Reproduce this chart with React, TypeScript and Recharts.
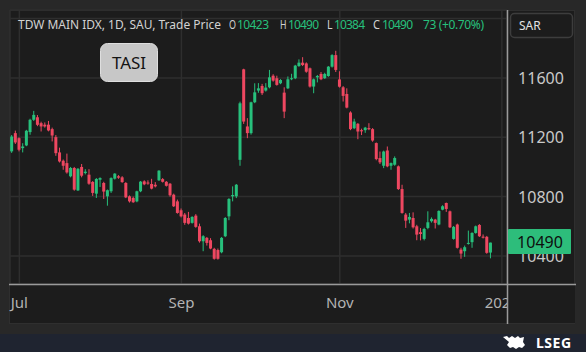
import React from 'react';
import { ComposedChart, Bar, XAxis, YAxis, CartesianGrid } from 'recharts';

// daily OHLC, TASI, Jul - Dec 2024
const opens = [
  11105, 11228, 11194, 11127, 11145, 11235, 11318, 11335, 11295, 11285,
  11285, 11255, 11201, 11098, 11042, 11026, 10937, 10993, 10842, 11000,
  10959, 10948, 10899, 10820, 10914, 10892, 10802, 10836, 10921, 10937,
  10930, 10892, 10802, 10791, 10768, 10836, 10903, 10895, 10885, 10880,
  10910, 10918, 10900, 10887, 10813, 10768, 10708, 10679, 10656, 10623,
  10672, 10600, 10499, 10522, 10506, 10448, 10440, 10425, 10533, 10667,
  10802, 10802, 11048, 11658, 11273, 11228, 11436, 11515, 11546, 11515,
  11537, 11615, 11598, 11564, 11501, 11530, 11594, 11598, 11680, 11703,
  11698, 11665, 11542, 11604, 11627, 11598, 11613, 11676, 11754, 11590,
  11537, 11492, 11367, 11261, 11291, 11248, 11248, 11262, 11255, 11161,
  11060, 11008, 11111, 11008, 11015, 11004, 10851, 10679, 10645, 10656,
  10600, 10560, 10515, 10589, 10634, 10645, 10612, 10712, 10757, 10701,
  10515, 10612, 10443, 10432, 10484, 10493, 10555, 10609, 10530, 10529,
  10423,
];
const highs = [
  11215, 11245, 11200, 11160, 11250, 11325, 11378, 11350, 11305, 11300,
  11310, 11265, 11215, 11130, 11050, 11090, 11000, 11000, 10992, 11020,
  10985, 10985, 10905, 10925, 10930, 10900, 10848, 10930, 10958, 10945,
  10938, 10898, 10808, 10800, 10840, 10905, 10910, 10910, 10920, 10898,
  10978, 10925, 10905, 10892, 10820, 10780, 10720, 10690, 10697, 10668,
  10682, 10618, 10540, 10528, 10520, 10455, 10450, 10528, 10662, 10790,
  10869, 10885, 11440, 11662, 11329, 11440, 11564, 11565, 11560, 11565,
  11654, 11625, 11615, 11592, 11537, 11610, 11628, 11688, 11725, 11740,
  11705, 11670, 11596, 11620, 11640, 11635, 11680, 11760, 11783, 11645,
  11545, 11530, 11375, 11325, 11296, 11258, 11270, 11295, 11262, 11165,
  11104, 11110, 11138, 11030, 11071, 11010, 10880, 10690, 10690, 10694,
  10610, 10588, 10590, 10701, 10660, 10650, 10708, 10742, 10760, 10706,
  10602, 10618, 10455, 10470, 10571, 10560, 10605, 10615, 10545, 10535,
  10490,
];
const lows = [
  11095, 11155, 11105, 11098, 11140, 11217, 11310, 11275, 11239, 11265,
  11240, 11172, 11075, 11030, 10981, 10955, 10930, 10840, 10838, 10930,
  10950, 10880, 10805, 10791, 10865, 10784, 10739, 10825, 10915, 10920,
  10893, 10790, 10760, 10758, 10762, 10830, 10877, 10880, 10849, 10862,
  10906, 10895, 10868, 10800, 10730, 10685, 10660, 10610, 10612, 10618,
  10590, 10490, 10432, 10470, 10445, 10375, 10375, 10418, 10527, 10641,
  10768, 10790, 11008, 11290, 11194, 11218, 11430, 11500, 11485, 11508,
  11530, 11575, 11548, 11558, 11329, 11525, 11585, 11592, 11675, 11680,
  11635, 11535, 11497, 11570, 11585, 11594, 11608, 11670, 11640, 11535,
  11441, 11395, 11248, 11255, 11187, 11215, 11230, 11248, 11170, 11045,
  11020, 10992, 10998, 10981, 11008, 10845, 10685, 10589, 10620, 10585,
  10506, 10505, 10505, 10580, 10625, 10585, 10607, 10708, 10697, 10588,
  10510, 10450, 10381, 10394, 10477, 10455, 10550, 10528, 10518, 10415,
  10384,
];
const closes = [
  11205, 11165, 11116, 11138, 11244, 11318, 11351, 11284, 11273, 11273,
  11246, 11212, 11093, 11037, 11008, 10963, 10993, 10847, 10988, 10941,
  10968, 10887, 10825, 10919, 10925, 10834, 10843, 10925, 10955, 10928,
  10898, 10795, 10768, 10762, 10836, 10901, 10883, 10888, 10854, 10869,
  10975, 10900, 10873, 10809, 10735, 10690, 10667, 10623, 10618, 10663,
  10596, 10499, 10533, 10488, 10450, 10381, 10381, 10522, 10656, 10784,
  10811, 10880, 11429, 11306, 11228, 11436, 11503, 11530, 11497, 11535,
  11604, 11582, 11553, 11586, 11373, 11591, 11598, 11683, 11703, 11687,
  11642, 11542, 11591, 11613, 11591, 11627, 11676, 11754, 11654, 11541,
  11479, 11400, 11255, 11306, 11239, 11240, 11265, 11254, 11178, 11053,
  11031, 11104, 11004, 11026, 11060, 10851, 10690, 10638, 10663, 10593,
  10544, 10548, 10582, 10627, 10650, 10623, 10703, 10735, 10717, 10593,
  10596, 10455, 10416, 10459, 10488, 10555, 10600, 10533, 10524, 10421,
  10490,
];

// first trading day of each month (bar index) and its label
const monthTicks = [2, 46, 89, 133];
const monthLabels = ['Jul', 'Sep', 'Nov', '2025'];
const priceTicks = [10400, 10800, 11200, 11600, 12000];
const hiddenPriceLabels = [12000]; // sits under the currency box

const GREEN = '#27c07c';
const RED = '#ee4760';
const FONT = '"Noto Sans", "Open Sans", sans-serif';

const data = opens.map((o, i) => ({
  i,
  o,
  h: highs[i],
  l: lows[i],
  c: closes[i],
  range: [lows[i], highs[i]],
}));

const Candle = (props: any) => {
  const { x, y, width, height, payload } = props;
  if (!payload) return null;
  const { o, h, l, c } = payload;
  const color = c >= o ? GREEN : RED;
  const top = Math.min(y, y + height);
  const span = Math.abs(height);
  const k = h === l ? 0 : span / (h - l);
  const yTop = top + (h - Math.max(o, c)) * k;
  const yBot = top + (h - Math.min(o, c)) * k;
  const cx = x + width / 2;
  return (
    <g>
      <line x1={cx} x2={cx} y1={top} y2={top + span} stroke={color} strokeWidth={1} />
      <rect x={x} y={yTop} width={width} height={Math.max(1, yBot - yTop)} fill={color} />
    </g>
  );
};

const PriceTick = (props: any) => {
  const { y, payload } = props;
  if (hiddenPriceLabels.includes(payload.value)) return <g />;
  return (
    <text x={541} y={y} dy={6} textAnchor="middle" fill="#c9c9c9" fontSize={16} fontFamily={FONT}>
      {payload.value}
    </text>
  );
};

const MonthTick = (props: any) => {
  const { x, y, payload } = props;
  const idx = monthTicks.indexOf(payload.value);
  return (
    <text x={x} y={y} dy={16} textAnchor="middle" fill="#b3b3b3" fontSize={15} fontFamily={FONT}>
      {monthLabels[idx]}
    </text>
  );
};

const App: React.FC = () => {
  return (
    <div style={{ position: 'relative', width: 586, height: 352, background: '#282828', overflow: 'hidden' }}>
      <style>{'body{margin:0}'}</style>
      <div style={{ position: 'absolute', left: 9, top: 10, width: 566, height: 314, background: '#1c1c1c', border: '1px solid #2f2f2f', boxSizing: 'border-box' }} />
      <div style={{ position: 'absolute', left: 0, top: 334, width: 586, height: 18, background: '#1f2430' }} />
      <div style={{ position: 'absolute', left: 0, top: 0 }}>
        <ComposedChart width={586} height={352} data={data} margin={{ top: 10, right: 10, bottom: 28, left: 10 }}>
          <CartesianGrid stroke="#2e2e2e" strokeWidth={1.5} />
          <XAxis
            dataKey="i"
            type="number"
            domain={[-0.54, 134.4]}
            allowDataOverflow
            ticks={monthTicks}
            interval={0}
            height={40}
            axisLine={false}
            tickLine={false}
            tick={<MonthTick />}
          />
          <YAxis
            orientation="right"
            type="number"
            domain={[10211, 12058]}
            allowDataOverflow
            ticks={priceTicks}
            interval={0}
            width={69}
            axisLine={false}
            tickLine={false}
            tick={<PriceTick />}
          />
          <Bar dataKey="range" barSize={3} shape={<Candle />} isAnimationActive={false} />
        </ComposedChart>
      </div>
      <svg width={586} height={352} style={{ position: 'absolute', left: 0, top: 0, pointerEvents: 'none' }} fontFamily={FONT}>
        {/* cover so the last month label is cut at the price scale */}
        <rect x={508} y={285} width={67} height={38} fill="#1c1c1c" />
        <line x1={9} x2={576} y1={284.5} y2={284.5} stroke="#9a9a9a" strokeWidth={1.5} />
        <line x1={507.5} x2={507.5} y1={10} y2={324} stroke="#9a9a9a" strokeWidth={1.5} />

        <text x={18} y={29} fontSize={12} fill="#d2d2d2" textLength={203} lengthAdjust="spacingAndGlyphs">TDW MAIN IDX, 1D, SAU, Trade Price</text>
        <text x={229} y={29} fontSize={12} fill="#d2d2d2" textLength={7} lengthAdjust="spacingAndGlyphs">O</text>
        <text x={237} y={29} fontSize={12} fill={GREEN} textLength={32}>10423</text>
        <text x={280} y={29} fontSize={12} fill="#d2d2d2" textLength={6.5} lengthAdjust="spacingAndGlyphs">H</text>
        <text x={288} y={29} fontSize={12} fill={GREEN} textLength={31}>10490</text>
        <text x={327} y={29} fontSize={12} fill="#d2d2d2" textLength={5.5} lengthAdjust="spacingAndGlyphs">L</text>
        <text x={334} y={29} fontSize={12} fill={GREEN} textLength={31}>10384</text>
        <text x={373} y={29} fontSize={12} fill="#d2d2d2" textLength={7} lengthAdjust="spacingAndGlyphs">C</text>
        <text x={382} y={29} fontSize={12} fill={GREEN} textLength={31}>10490</text>
        <text x={423} y={29} fontSize={12} fill={GREEN} textLength={61}>73 (+0.70%)</text>

        <rect x={510.5} y={13.5} width={62} height={24} rx={4} fill="#1c1c1c" stroke="#3d3d3d" strokeWidth={1.5} />
        <text x={519} y={30} fontSize={12} fill="#e2e2e2">SAR</text>

        <rect x={100.5} y={43.5} width={57} height={38} rx={7} fill="#c7c7c7" stroke="#dedede" />
        <text x={129} y={69} fontSize={17} fill="#141414" textAnchor="middle">TASI</text>

        <rect x={508} y={229} width={63} height={25} rx={1} fill="#2dbd7b" />
        <text x={540} y={247.5} fontSize={16} fill="#0e0e0e" textAnchor="middle">10490</text>

        <g fill="#ffffff">
          <path d="M503 337 l4 -1 l2 2 l3 -2 l3 2 l3 -2 l2 2 l4 -1 l-1 5 l2 3 l-3 3 l-3 -1 l-3 2 l-3 -2 l-3 1 l-3 -3 l2 -3 z" />
        </g>
        <text x={536} y={348} fontSize={14} fontWeight={700} fill="#ffffff" letterSpacing={0.5}>LSEG</text>
      </svg>
    </div>
  );
};

export default App;
